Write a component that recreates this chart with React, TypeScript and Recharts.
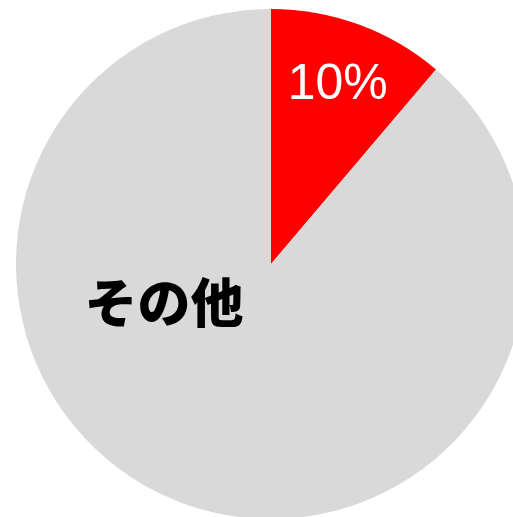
import { PieChart, Pie, Cell } from "recharts";

const NAMES = ["該当", "その他"];
const VALUES = [11.2, 88.8];
const LABELS = ["10%", "その他"];
const COLORS = ["#ff0000", "#d9d9d9"];

const chartData = NAMES.map((name, i) => ({ name, value: VALUES[i] }));

const RADIAN = Math.PI / 180;

function renderLabel(props: any) {
  const { cx, cy, midAngle, outerRadius, index } = props;
  if (index === 0) {
    const r = outerRadius * 0.76;
    const x = cx + r * Math.cos(-midAngle * RADIAN);
    const y = cy + r * Math.sin(-midAngle * RADIAN);
    return (
      <text
        x={x}
        y={y}
        fill="#ffffff"
        fontSize={50}
        fontFamily="'Liberation Sans', Arial, sans-serif"
        textAnchor="middle"
        dominantBaseline="central"
      >
        {LABELS[index]}
      </text>
    );
  }
  // the "other" label sits left of centre, not on the slice's mid-angle
  const x = cx - outerRadius * 0.42;
  const y = cy + outerRadius * 0.14;
  return (
    <text
      x={x}
      y={y}
      fill="#000000"
      fontSize={53}
      fontWeight={900}
      fontFamily="'Noto Sans CJK JP', sans-serif"
      textAnchor="middle"
      dominantBaseline="central"
    >
      {LABELS[index]}
    </text>
  );
}

export default function App() {
  return (
    <div
      style={{
        position: "fixed",
        top: 0,
        left: 0,
        width: 513,
        height: 517,
        background: "#ffffff",
      }}
    >
      <PieChart width={513} height={517}>
        <Pie
          data={chartData}
          dataKey="value"
          cx={266}
          cy={259}
          outerRadius={255}
          startAngle={90}
          endAngle={-270}
          stroke="none"
          labelLine={false}
          label={renderLabel}
          isAnimationActive={false}
        >
          {chartData.map((d, i) => (
            <Cell key={d.name} fill={COLORS[i]} />
          ))}
        </Pie>
      </PieChart>
    </div>
  );
}
